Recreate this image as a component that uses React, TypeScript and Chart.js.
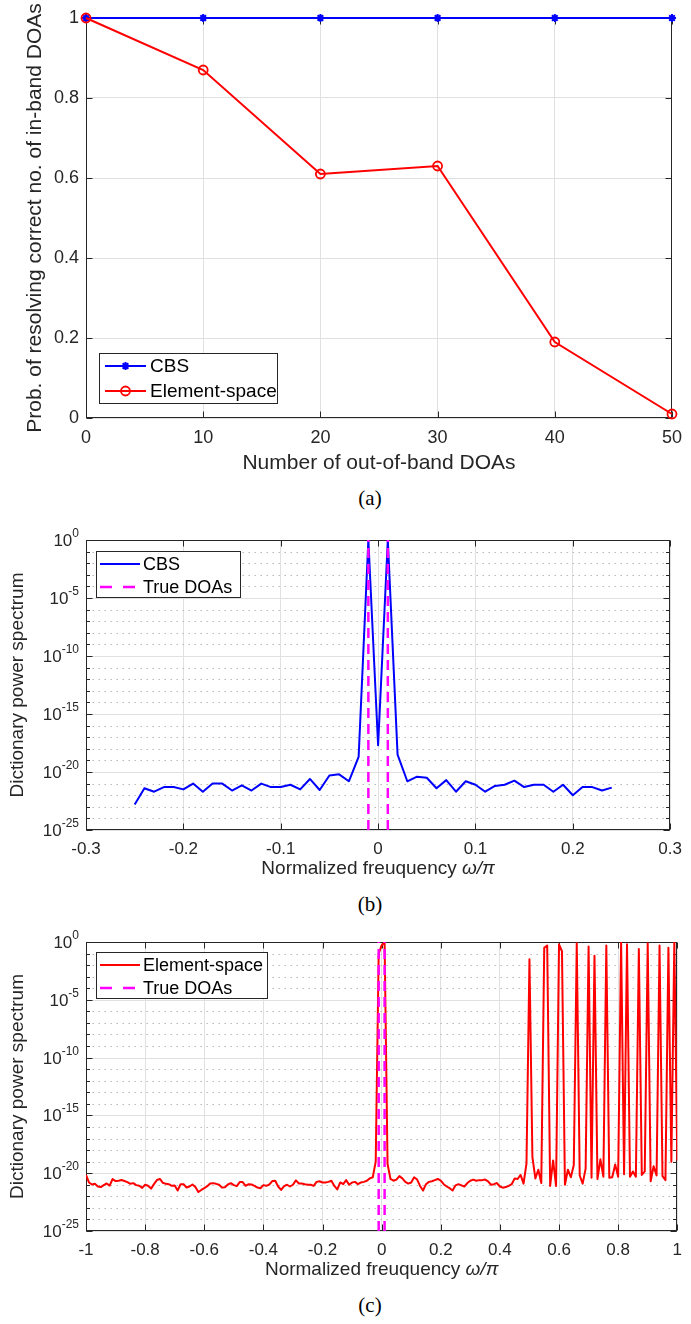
import React, { useEffect, useRef } from 'react';
import { Chart, registerables } from 'chart.js';

Chart.register(...registerables);

const SANS = '"Liberation Sans", Arial, Helvetica, sans-serif';
const SERIF = '"Liberation Serif", "Times New Roman", serif';
Chart.defaults.font.family = SANS;

const AXIS_COLOR = '#262626';
const GRID_COLOR = '#e0e0e0';
const MINOR_GRID_COLOR = '#b9b9b9';
const BLUE = '#0000ff';
const RED = '#ff0000';
const MAGENTA = '#ff00ff';

// ---------------- Panel (a) ----------------
const A_OUT_OF_BAND = [0, 10, 20, 30, 40, 50];
const A_CBS = [1, 1, 1, 1, 1, 1];
const A_ELEMENT = [1, 0.87, 0.61, 0.63, 0.19, 0.01];
const A_XTICKS = [0, 10, 20, 30, 40, 50];
const A_XTICK_LABELS = ['0', '10', '20', '30', '40', '50'];
const A_YTICKS = [0, 0.2, 0.4, 0.6, 0.8, 1];
const A_YTICK_LABELS = ['0', '0.2', '0.4', '0.6', '0.8', '1'];

// ---------------- Panel (b) ----------------
const B_FREQ_START = -0.25;
const B_FREQ_STEP = 0.01;
// log10 of the CBS dictionary power spectrum
const B_CBS_LOG10 = [
  -22.8, -21.4, -21.7, -21.3, -21.3, -21.5, -21.0, -21.7, -21.0, -21.0,
  -21.6, -21.15, -21.6, -21.0, -21.3, -21.3, -21.1, -21.5, -20.6, -21.55,
  -20.3, -20.2, -20.8, -18.7, 0, -17.7, 0, -18.5, -20.8, -20.4,
  -20.5, -21.4, -20.7, -21.7, -20.8, -21.1, -21.7, -21.2, -21.1, -20.75,
  -21.3, -21.1, -21.1, -21.7, -21.1, -22.0, -21.3, -21.3, -21.6, -21.35,
];
const B_XTICKS = [-0.3, -0.2, -0.1, 0, 0.1, 0.2, 0.3];
const B_XTICK_LABELS = ['-0.3', '-0.2', '-0.1', '0', '0.1', '0.2', '0.3'];

// ---------------- Panel (c) ----------------
const C_FREQ_START = -1;
const C_FREQ_STEP = 0.01;
// log10 of the element-space dictionary power spectrum
const C_ELEMENT_LOG10 = [
  -20.15, -20.8, -20.98, -20.92, -21.15, -21.2, -21.03, -20.89, -21.07, -20.5,
  -20.68, -20.65, -20.59, -20.68, -20.77, -20.92, -20.86, -21.03, -21.09, -21.27,
  -21.0, -21.09, -21.33, -20.95, -20.59, -20.5, -20.83, -20.92, -20.95, -21.09,
  -21.07, -21.5, -20.95, -20.95, -21.24, -21.15, -20.98, -21.2, -21.63, -21.45,
  -21.3, -21.12, -20.89, -20.86, -20.92, -21.0, -21.24, -21.21, -20.98, -20.86,
  -21.03, -21.12, -20.77, -20.77, -21.09, -20.95, -20.98, -21.09, -21.24, -21.3,
  -21.03, -21.09, -20.98, -20.68, -20.65, -21.15, -21.45, -21.12, -21.0, -21.15,
  -21.0, -20.62, -20.89, -20.89, -20.95, -21.0, -21.0, -21.1, -20.75, -20.7,
  -20.8, -20.8, -20.75, -20.65, -21.1, -21.4, -20.8, -20.95, -20.6, -21.0,
  -20.8, -20.75, -20.95, -20.8, -20.75, -20.65, -20.45, -20.35, -19.0, -1.0,
  -0.3, 0, -19.2, -20.5, -20.65, -20.55, -20.25, -20.45, -20.75, -20.9,
  -20.8, -20.35, -20.55, -21.1, -21.5, -20.95, -20.75, -20.7, -20.6, -20.5,
  -20.65, -20.95, -21.15, -21.3, -21.5, -21.05, -20.95, -21.05, -21.15, -20.85,
  -20.65, -20.55, -20.65, -20.6, -20.6, -20.55, -20.7, -21.0, -20.95, -20.85,
  -21.15, -21.25, -21.2, -21.1, -20.95, -20.45, -20.5, -20.15, -20.9, -19.15,
  -1.5, -18.6, -20.45, -19.7, -20.85, -0.5, -0.3, -21.1, -18.9, -21.1,
  -0.2, -0.8, -21.0, -19.7, -20.35, -19.3, -0.1, -20.2, -20.9, -19.6,
  -0.4, -20.4, -1.2, -20.5, -18.8, -20.3, -0.3, -20.4, -20.35, -19.25,
  -20.3, 0, -20.1, -0.2, -20.3, -19.85, -20.3, -0.6, -20.15, -19.85,
  -0.1, -20.7, -19.4, -20.2, -0.3, -20.25, -20.6, -0.5, -19.0, 0,
  -18.9,
];
const C_XTICKS = [-1, -0.8, -0.6, -0.4, -0.2, 0, 0.2, 0.4, 0.6, 0.8, 1];
const C_XTICK_LABELS = ['-1', '-0.8', '-0.6', '-0.4', '-0.2', '0', '0.2', '0.4', '0.6', '0.8', '1'];

const TRUE_DOAS = [-0.01, 0.01];
const LOG_MIN = 1e-25;
const LOG_MAX = 1;
const LOG_DECADE_EXPS = [-25, -24, -23, -22, -21, -20, -19, -18, -17, -16, -15, -14, -13, -12, -11, -10, -9, -8, -7, -6, -5, -4, -3, -2, -1, 0];
const LOG_LABEL_EXPS = [0, -5, -10, -15, -20, -25];

const freqGrid = (start: number, step: number, n: number) =>
  Array.from({ length: n }, (_, i) => +(start + i * step).toFixed(2));

const B_FREQ = freqGrid(B_FREQ_START, B_FREQ_STEP, B_CBS_LOG10.length);
const C_FREQ = freqGrid(C_FREQ_START, C_FREQ_STEP, C_ELEMENT_LOG10.length);

// ---------------- drawing helpers ----------------
function drawMarker(ctx: CanvasRenderingContext2D, style: string, x: number, y: number, r: number, color: string, lw: number) {
  ctx.save();
  ctx.setLineDash([]);
  ctx.strokeStyle = color;
  ctx.lineWidth = lw;
  ctx.beginPath();
  if (style === 'star') {
    ctx.moveTo(x - r, y); ctx.lineTo(x + r, y);
    ctx.moveTo(x, y - r); ctx.lineTo(x, y + r);
    const d = r * Math.SQRT1_2;
    ctx.moveTo(x - d, y - d); ctx.lineTo(x + d, y + d);
    ctx.moveTo(x - d, y + d); ctx.lineTo(x + d, y - d);
  } else {
    ctx.arc(x, y, r, 0, Math.PI * 2);
  }
  ctx.stroke();
  ctx.restore();
}

type LegendRow = { ds: number; y: number; dash?: number[] };
type AxesCfg = {
  xTicks: number[];
  yTicks: number[];
  yMinor?: number[];
  logY?: boolean;
  logLabelExps?: number[];
  tickFont?: number;
  supFont?: number;
  xTitle?: { main: string; italic: string; y: number; size: number };
  legend?: { x: number; y: number; w: number; h: number; font: number; sx0: number; sx1: number; tx: number; rows: LegendRow[] };
};

function makeAxesPlugin(cfg: AxesCfg) {
  return {
    id: 'matlabAxes',
    beforeDatasetsDraw(chart: any) {
      const { ctx, chartArea: ca } = chart;
      const xs = chart.scales.x;
      const ys = chart.scales.y;
      const L = Math.round(ca.left) + 0.5;
      const R = Math.round(ca.right) - 0.5;
      const T = Math.round(ca.top) + 0.5;
      const B = Math.round(ca.bottom) - 0.5;
      ctx.save();
      ctx.lineWidth = 1;
      if (cfg.logY && cfg.yMinor) {
        ctx.strokeStyle = MINOR_GRID_COLOR;
        ctx.setLineDash([1.5, 4.5]);
        ctx.beginPath();
        for (const v of cfg.yMinor) {
          if (cfg.yTicks.includes(v)) continue;
          const py = Math.round(ys.getPixelForValue(v)) + 0.5;
          ctx.moveTo(L, py); ctx.lineTo(R, py);
        }
        ctx.stroke();
        ctx.setLineDash([]);
        ctx.strokeStyle = GRID_COLOR;
        ctx.beginPath();
        for (const v of cfg.yTicks) {
          const py = Math.round(ys.getPixelForValue(v)) + 0.5;
          ctx.moveTo(L, py); ctx.lineTo(R, py);
        }
        ctx.stroke();
      }
      ctx.setLineDash([]);
      ctx.strokeStyle = AXIS_COLOR;
      ctx.strokeRect(L, T, R - L, B - T);
      ctx.beginPath();
      const TL = 6;
      for (const v of cfg.xTicks) {
        const px = Math.round(xs.getPixelForValue(v)) + 0.5;
        ctx.moveTo(px, B); ctx.lineTo(px, B - TL);
        ctx.moveTo(px, T); ctx.lineTo(px, T + TL);
      }
      for (const v of cfg.yTicks) {
        const py = Math.round(ys.getPixelForValue(v)) + 0.5;
        ctx.moveTo(L, py); ctx.lineTo(L + TL, py);
        ctx.moveTo(R, py); ctx.lineTo(R - TL, py);
      }
      if (cfg.yMinor) {
        for (const v of cfg.yMinor) {
          const py = Math.round(ys.getPixelForValue(v)) + 0.5;
          ctx.moveTo(L, py); ctx.lineTo(L + 3.5, py);
          ctx.moveTo(R, py); ctx.lineTo(R - 3.5, py);
        }
      }
      ctx.stroke();
      ctx.restore();
    },
    afterDraw(chart: any) {
      const { ctx, chartArea: ca } = chart;
      const ys = chart.scales.y;
      ctx.save();
      if (cfg.logLabelExps) {
        const right = ca.left - 7;
        for (const e of cfg.logLabelExps) {
          const py = ys.getPixelForValue(Math.pow(10, e));
          const es = String(e);
          ctx.font = `${cfg.supFont}px ${SANS}`;
          const ew = ctx.measureText(es).width;
          ctx.font = `${cfg.tickFont}px ${SANS}`;
          const bw = ctx.measureText('10').width;
          ctx.fillStyle = AXIS_COLOR;
          ctx.textAlign = 'left';
          ctx.textBaseline = 'alphabetic';
          ctx.fillText('10', right - ew - bw, py + 6);
          ctx.font = `${cfg.supFont}px ${SANS}`;
          ctx.fillText(es, right - ew, py - 3);
        }
      }
      if (cfg.xTitle) {
        const t = cfg.xTitle;
        ctx.font = `${t.size}px ${SANS}`;
        const w1 = ctx.measureText(t.main).width;
        ctx.font = `italic ${t.size}px ${SANS}`;
        const w2 = ctx.measureText(t.italic).width;
        const cx = (ca.left + ca.right) / 2;
        const x0 = cx - (w1 + w2) / 2;
        ctx.fillStyle = AXIS_COLOR;
        ctx.textAlign = 'left';
        ctx.textBaseline = 'middle';
        ctx.font = `${t.size}px ${SANS}`;
        ctx.fillText(t.main, x0, t.y);
        ctx.font = `italic ${t.size}px ${SANS}`;
        ctx.fillText(t.italic, x0 + w1, t.y);
      }
      if (cfg.legend) {
        const lg = cfg.legend;
        ctx.fillStyle = '#ffffff';
        ctx.fillRect(lg.x, lg.y, lg.w, lg.h);
        ctx.strokeStyle = AXIS_COLOR;
        ctx.lineWidth = 1;
        ctx.setLineDash([]);
        ctx.strokeRect(lg.x + 0.5, lg.y + 0.5, lg.w - 1, lg.h - 1);
        for (const row of lg.rows) {
          const ds = chart.data.datasets[row.ds];
          ctx.save();
          ctx.strokeStyle = ds.borderColor;
          ctx.lineWidth = ds.borderWidth;
          ctx.setLineDash(row.dash || []);
          ctx.beginPath();
          ctx.moveTo(lg.sx0, row.y);
          ctx.lineTo(lg.sx1, row.y);
          ctx.stroke();
          ctx.restore();
          if (ds.pointRadius > 0) {
            drawMarker(ctx, ds.pointStyle, (lg.sx0 + lg.sx1) / 2, row.y, ds.pointRadius, ds.pointBorderColor, ds.pointBorderWidth);
          }
          ctx.fillStyle = '#000000';
          ctx.font = `${lg.font}px ${SANS}`;
          ctx.textAlign = 'left';
          ctx.textBaseline = 'middle';
          ctx.fillText(ds.label, lg.tx, row.y + 1);
        }
      }
      ctx.restore();
    },
  };
}

const baseOptions = (padTop: number, xHeight: number) => ({
  animation: false,
  responsive: false,
  devicePixelRatio: 1,
  events: [],
  layout: { padding: { left: 0, right: 10, top: padTop, bottom: 0 } },
  plugins: { legend: { display: false }, tooltip: { enabled: false } },
});

// ---------------- chart builders ----------------
function buildA(): any {
  return {
    type: 'line',
    data: {
      datasets: [
        {
          label: 'CBS',
          data: A_OUT_OF_BAND.map((v, i) => ({ x: v, y: A_CBS[i] })),
          borderColor: BLUE, backgroundColor: BLUE, borderWidth: 2,
          pointStyle: 'star', pointRadius: 4, pointBorderWidth: 2, pointBorderColor: BLUE,
          order: 1, clip: false,
        },
        {
          label: 'Element-space',
          data: A_OUT_OF_BAND.map((v, i) => ({ x: v, y: A_ELEMENT[i] })),
          borderColor: RED, backgroundColor: 'rgba(0,0,0,0)', borderWidth: 2,
          pointStyle: 'circle', pointRadius: 4.5, pointBorderWidth: 1.8,
          pointBorderColor: RED, pointBackgroundColor: 'rgba(0,0,0,0)',
          order: 0, clip: false,
        },
      ],
    },
    options: {
      ...baseOptions(18, 62),
      scales: {
        x: {
          type: 'linear', min: 0, max: 50,
          afterBuildTicks: (s: any) => { s.ticks = A_XTICKS.map((v) => ({ value: v })); },
          afterFit: (s: any) => { s.height = 62; },
          ticks: { callback: (_v: any, i: number) => A_XTICK_LABELS[i], font: { size: 18 }, color: AXIS_COLOR, padding: 9, autoSkip: false, maxRotation: 0 },
          grid: { color: GRID_COLOR, drawTicks: false },
          border: { display: false },
          title: { display: true, text: 'Number of out-of-band DOAs', font: { size: 21 }, color: AXIS_COLOR, padding: { top: 0, bottom: 4 } },
        },
        y: {
          type: 'linear', min: 0, max: 1,
          afterBuildTicks: (s: any) => { s.ticks = A_YTICKS.map((v) => ({ value: v })); },
          afterFit: (s: any) => { s.width = 86; },
          ticks: { callback: (_v: any, i: number) => A_YTICK_LABELS[i], font: { size: 18 }, color: AXIS_COLOR, padding: 7, autoSkip: false },
          grid: { color: GRID_COLOR, drawTicks: false },
          border: { display: false },
          title: { display: true, text: 'Prob. of resolving correct no. of in-band DOAs', font: { size: 21 }, color: AXIS_COLOR, padding: { top: 23, bottom: 0 } },
        },
      },
    },
    plugins: [
      makeAxesPlugin({
        xTicks: A_XTICKS,
        yTicks: A_YTICKS,
        legend: {
          x: 99, y: 353, w: 179, h: 51, font: 19, sx0: 105, sx1: 146, tx: 150,
          rows: [{ ds: 0, y: 366 }, { ds: 1, y: 391 }],
        },
      }),
    ],
  };
}

function spectrumChart(
  freq: number[], logVals: number[], label: string, color: string,
  xTicks: number[], xLabels: string[], xMin: number, xMax: number,
  padTop: number, xHeight: number, xTitleY: number,
  legend: AxesCfg['legend'],
): any {
  const doaData: any[] = [];
  TRUE_DOAS.forEach((f) => {
    doaData.push({ x: f, y: LOG_MIN }, { x: f, y: LOG_MAX }, { x: f, y: null });
  });
  return {
    type: 'line',
    data: {
      datasets: [
        {
          label,
          data: freq.map((f, i) => ({ x: f, y: Math.pow(10, logVals[i]) })),
          borderColor: color, backgroundColor: color, borderWidth: 2,
          pointRadius: 0, tension: 0, borderJoinStyle: 'round', order: 1,
        },
        {
          label: 'True DOAs',
          data: doaData,
          borderColor: MAGENTA, backgroundColor: MAGENTA, borderWidth: 2.5,
          borderDash: [10, 6], pointRadius: 0, spanGaps: false, order: 0,
        },
      ],
    },
    options: {
      ...baseOptions(padTop, xHeight),
      scales: {
        x: {
          type: 'linear', min: xMin, max: xMax,
          afterBuildTicks: (s: any) => { s.ticks = xTicks.map((v) => ({ value: v })); },
          afterFit: (s: any) => { s.height = xHeight; },
          ticks: { callback: (_v: any, i: number) => xLabels[i], font: { size: 17 }, color: AXIS_COLOR, padding: 9, autoSkip: false, maxRotation: 0 },
          grid: { color: GRID_COLOR, drawTicks: false },
          border: { display: false },
        },
        y: {
          type: 'logarithmic', min: LOG_MIN, max: LOG_MAX,
          afterBuildTicks: (s: any) => { s.ticks = LOG_LABEL_EXPS.map((e) => ({ value: Math.pow(10, e) })); },
          afterFit: (s: any) => { s.width = 86; },
          ticks: { display: false },
          grid: { display: false },
          border: { display: false },
          title: { display: true, text: 'Dictionary power spectrum', font: { size: 19 }, color: AXIS_COLOR, padding: { top: 6, bottom: 0 } },
        },
      },
    },
    plugins: [
      makeAxesPlugin({
        xTicks,
        yTicks: LOG_LABEL_EXPS.map((e) => Math.pow(10, e)),
        yMinor: LOG_DECADE_EXPS.map((e) => Math.pow(10, e)),
        logY: true,
        logLabelExps: LOG_LABEL_EXPS,
        tickFont: 17,
        supFont: 12,
        xTitle: { main: 'Normalized freuquency ', italic: 'ω/π', y: xTitleY, size: 19 },
        legend,
      }),
    ],
  };
}

const B_TOP = 515;
const C_TOP = 915;

function buildB(): any {
  return spectrumChart(
    B_FREQ, B_CBS_LOG10, 'CBS', BLUE, B_XTICKS, B_XTICK_LABELS, -0.3, 0.3,
    25, 60, 869 - B_TOP,
    {
      x: 96, y: 551 - B_TOP, w: 145, h: 47, font: 18, sx0: 100, sx1: 140, tx: 143,
      rows: [{ ds: 0, y: 564 - B_TOP }, { ds: 1, y: 587 - B_TOP, dash: [12, 11] }],
    },
  );
}

function buildC(): any {
  return spectrumChart(
    C_FREQ, C_ELEMENT_LOG10, 'Element-space', RED, C_XTICKS, C_XTICK_LABELS, -1, 1,
    27, 59, 1270 - C_TOP,
    {
      x: 96, y: 952 - C_TOP, w: 172, h: 47, font: 18, sx0: 100, sx1: 140, tx: 143,
      rows: [{ ds: 0, y: 965 - C_TOP }, { ds: 1, y: 988 - C_TOP, dash: [12, 11] }],
    },
  );
}

function PanelCanvas({ top, height, build }: { top: number; height: number; build: () => any }) {
  const ref = useRef<HTMLCanvasElement | null>(null);
  useEffect(() => {
    const chart = new Chart(ref.current as HTMLCanvasElement, build());
    return () => chart.destroy();
  }, []);
  return (
    <canvas
      ref={ref}
      width={691}
      height={height}
      style={{ position: 'absolute', left: 0, top, width: 691, height, display: 'block' }}
    />
  );
}

function Caption({ y, text }: { y: number; text: string }) {
  return (
    <div
      style={{
        position: 'absolute', left: 320, top: y - 13, width: 100, height: 26,
        textAlign: 'center', fontFamily: SERIF, fontSize: 21, lineHeight: '26px', color: '#000',
      }}
    >
      {text}
    </div>
  );
}

export default function App() {
  return (
    <div style={{ position: 'absolute', left: 0, top: 0, width: 691, height: 1324, background: '#ffffff', overflow: 'hidden' }}>
      <PanelCanvas top={0} height={480} build={buildA} />
      <Caption y={498} text="(a)" />
      <PanelCanvas top={B_TOP} height={375} build={buildB} />
      <Caption y={904} text="(b)" />
      <PanelCanvas top={C_TOP} height={375} build={buildC} />
      <Caption y={1305} text="(c)" />
    </div>
  );
}
